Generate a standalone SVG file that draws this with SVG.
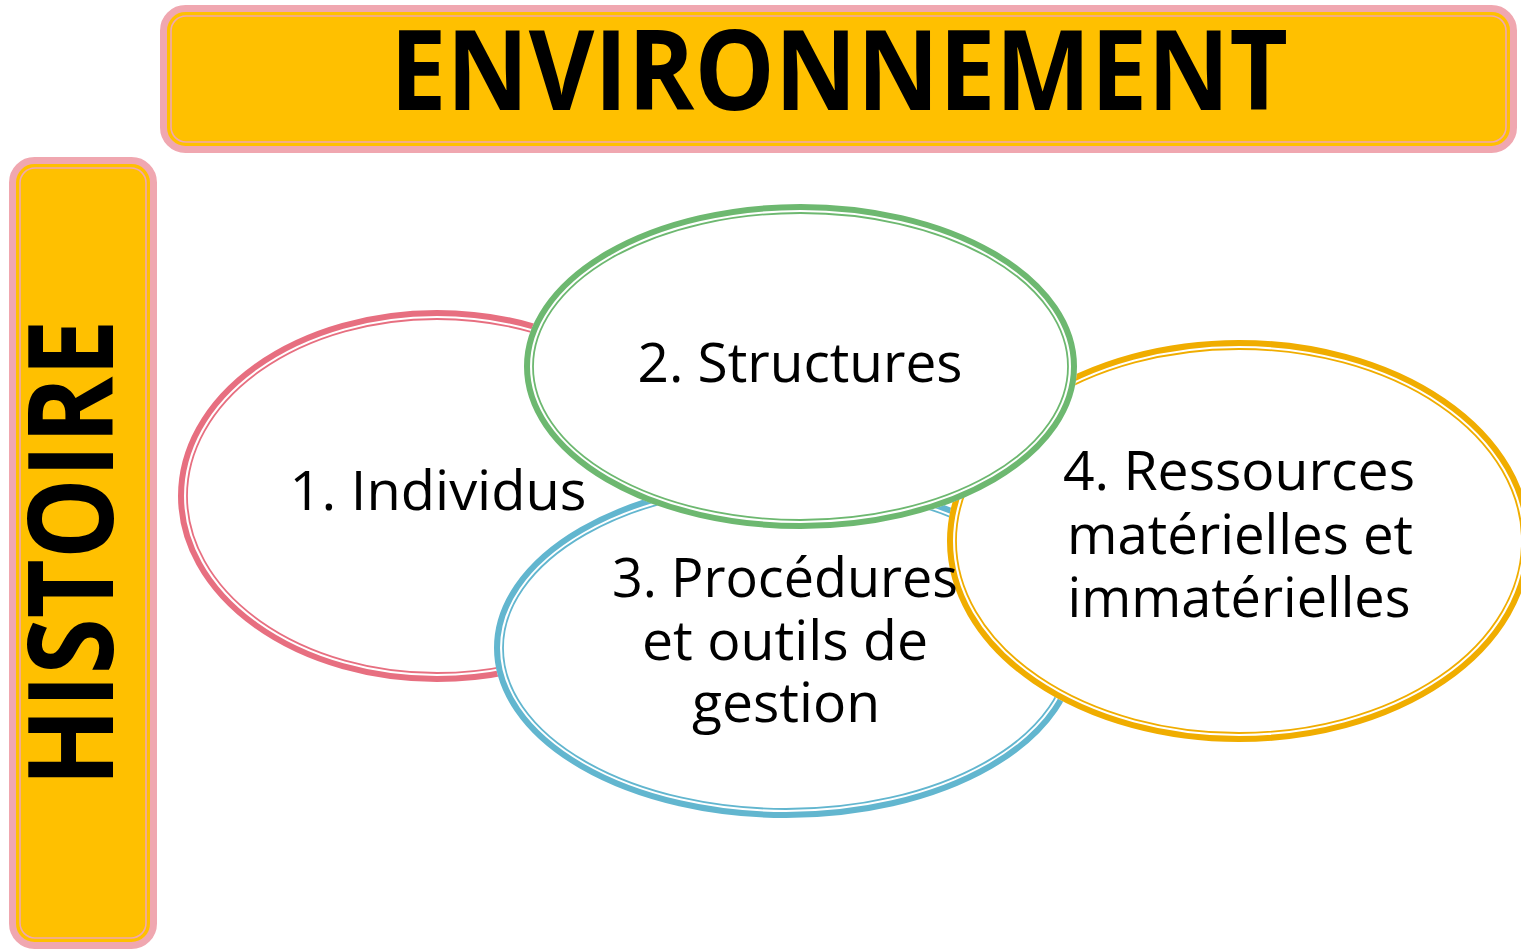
<svg xmlns="http://www.w3.org/2000/svg" width="1521" height="950" viewBox="0 0 1521 950">
<style>
.box{fill:#FFC000;stroke:#F0A7B0;stroke-width:7}
.boxin{fill:none;stroke:#F0A7B0;stroke-width:1.6}
.title{font-family:"Open Sans","Liberation Sans",sans-serif;font-weight:bold;fill:#000}
.lbl{font-family:"Open Sans","Liberation Sans",sans-serif;font-size:54px;fill:#000;text-anchor:middle}
.ofill{fill:#fff}
.thin{fill:none;stroke-width:1.8}
.thick{fill:none;stroke-width:6}
</style>
<rect width="1521" height="950" fill="#fff"/>
<g id="environnement">
<rect class="box" x="163.5" y="8.5" width="1350" height="141" rx="22"/>
<rect class="boxin" x="171" y="16" width="1335" height="126" rx="15"/>
<text class="title" x="839" y="110" font-size="112" text-anchor="middle" textLength="898" lengthAdjust="spacingAndGlyphs">ENVIRONNEMENT</text>
</g>
<g id="histoire">
<rect class="box" x="12.5" y="160.5" width="141" height="785" rx="22"/>
<rect class="boxin" x="20" y="168" width="126" height="770" rx="15"/>
<text class="title" transform="translate(113,553) rotate(-90)" x="0" y="0" font-size="118" text-anchor="middle" textLength="467" lengthAdjust="spacingAndGlyphs">HISTOIRE</text>
</g>
<g id="n1">
<ellipse class="ofill" cx="437" cy="496" rx="259" ry="186"/>
<ellipse class="thick" stroke="#E76F80" cx="437" cy="496" rx="256" ry="183"/>
<ellipse class="thin" stroke="#E76F80" cx="437" cy="496" rx="250" ry="177"/>
</g>
<g id="n3">
<ellipse class="ofill" cx="786" cy="648" rx="292" ry="170"/>
<ellipse class="thick" stroke="#62B6CF" cx="786" cy="648" rx="289" ry="167"/>
<ellipse class="thin" stroke="#62B6CF" cx="786" cy="648" rx="283" ry="161"/>
</g>
<g id="n4">
<ellipse class="ofill" cx="1239" cy="541" rx="292" ry="201"/>
<ellipse class="thick" stroke="#F0AD00" cx="1239" cy="541" rx="289" ry="198"/>
<ellipse class="thin" stroke="#F0AD00" cx="1239" cy="541" rx="283" ry="192"/>
</g>
<g id="n2">
<ellipse class="ofill" cx="800.5" cy="366.5" rx="276.5" ry="162.5"/>
<ellipse class="thick" stroke="#6DB870" cx="800.5" cy="366.5" rx="273.5" ry="159.5"/>
<ellipse class="thin" stroke="#6DB870" cx="800.5" cy="366.5" rx="267.5" ry="153.5"/>
</g>
<g id="labels">
<text class="lbl" x="438" y="510" textLength="297" lengthAdjust="spacingAndGlyphs">1. Individus</text>
<text class="lbl" x="800" y="382" textLength="325" lengthAdjust="spacingAndGlyphs">2. Structures</text>
<text class="lbl" x="785" y="597" textLength="346" lengthAdjust="spacingAndGlyphs">3. Procédures</text>
<text class="lbl" x="785" y="660" textLength="286" lengthAdjust="spacingAndGlyphs">et outils de</text>
<text class="lbl" x="786" y="722" textLength="188" lengthAdjust="spacingAndGlyphs">gestion</text>
<text class="lbl" x="1239" y="490" textLength="352" lengthAdjust="spacingAndGlyphs">4. Ressources</text>
<text class="lbl" x="1240" y="554" textLength="346" lengthAdjust="spacingAndGlyphs">matérielles et</text>
<text class="lbl" x="1239" y="617" textLength="343" lengthAdjust="spacingAndGlyphs">immatérielles</text>
</g>
<g id="connectors"></g>
</svg>
